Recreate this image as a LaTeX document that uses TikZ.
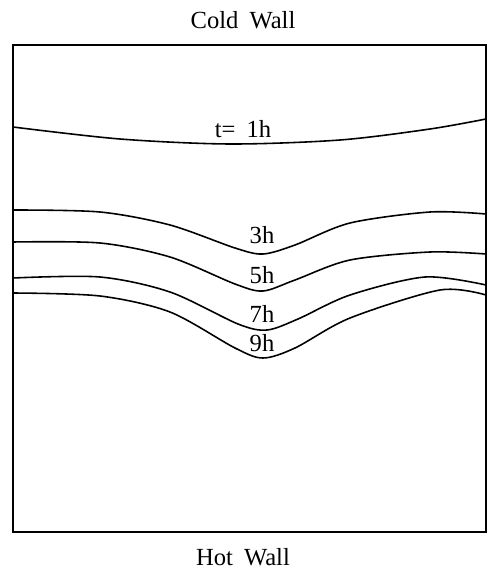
\documentclass[tikz,border=0pt]{standalone}
\usepackage{fontspec}
\setmainfont{Liberation Serif}[WordSpace=1.8]
\usepackage{tikz}

\begin{document}
\begin{tikzpicture}[
    x=0.02cm, y=-0.02cm,
    wall/.style={font=\fontsize{14}{16}\selectfont},
    lbl/.style={font=\fontsize{14}{16}\selectfont, inner sep=0pt},
    front/.style={line width=0.9pt, line join=round}
]
\useasboundingbox (0,0) rectangle (488,574);

% cavity
\draw[line width=0.7pt] (13,45) rectangle (486,532);
\node[wall] (cold) at (243,20) {Cold Wall};
\node[wall] (hot) at (243,557) {Hot Wall};

% melting fronts
\draw[front] plot[smooth] coordinates {(13,127) (120,139) (230,144) (340,140) (430,129) (486,119)};
\draw[front] plot[smooth] coordinates {(13,210) (100,212) (170,225) (235,248) (263,254) (295,245) (350,223) (430,212) (486,214)};
\draw[front] plot[smooth] coordinates {(13,242) (100,243) (170,257) (235,284) (263,291) (295,280) (350,260) (430,252) (486,254)};
\draw[front] plot[smooth] coordinates {(13,278) (100,277) (170,292) (238,324) (267,330) (298,319) (350,295) (425,277) (486,285)};
\draw[front] plot[smooth] coordinates {(13,293) (100,296) (170,312) (235,348) (263,358) (295,348) (350,318) (440,290) (486,295)};

% times
\node[lbl] (t1) at (243,129) {t= 1h};
\node[lbl] (t3) at (262,235) {3h};
\node[lbl] (t5) at (262,275) {5h};
\node[lbl] (t7) at (262,314) {7h};
\node[lbl] (t9) at (262,343) {9h};
\end{tikzpicture}
\end{document}
